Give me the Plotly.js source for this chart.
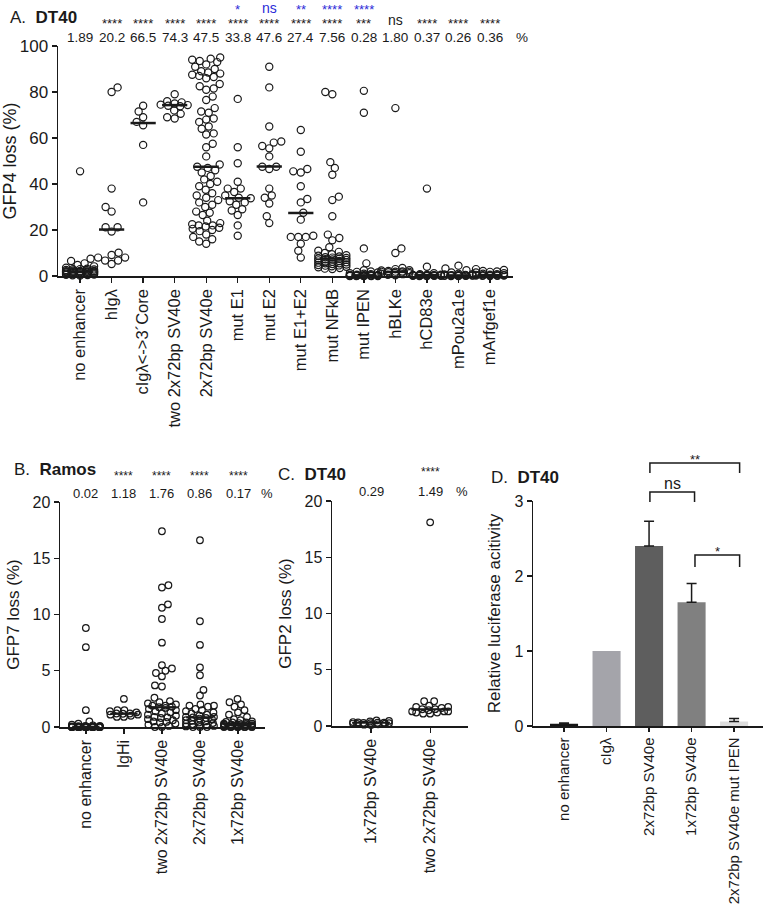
<!DOCTYPE html>
<html><head><meta charset="utf-8">
<script src="https://cdn.plot.ly/plotly-3.0.1.min.js"></script>
<style>html,body{margin:0;padding:0;background:#fff}#chart{width:765px;height:909px}</style>
</head><body><div id="chart"></div>
<script>
// ---------- Panel A (DT40, GFP4 loss) ----------
const catsA = ['no enhancer','hIgλ','cIgλ&lt;-&gt;3´Core','two 2x72bp SV40e','2x72bp SV40e','mut E1','mut E2','mut E1+E2','mut NFkB','mut IPEN','hBLKe','hCD83e','mPou2a1e','mArfgef1e'];
const medLabelsA = ['1.89','20.2','66.5','74.3','47.5','33.8','47.6','27.4','7.56','0.28','1.80','0.37','0.26','0.36'];
const starsA = ['','****','****','****','****','****','****','****','****','***','ns','****','****','****'];
const blueStarsA = ['','','','','','*','ns','**','****','****','','','',''];
const a_noEnh = [45.5,7.5,6.5,5.5,4.8,4.2,3.6,3.2,3.0,2.8,2.6,2.4,2.2,2.1,2.0,2.0,1.9,1.9,1.8,1.7,1.6,1.5,1.4,1.3,1.2,1.1,1.0,0.9,0.8,0.7,0.6,0.5,0.4,0.3,0.2,2.5,1.8,2.2,1.5,3.0];
const a_hIgl = [82,80,38,30,28,21.2,21.2,19.3,10.1,9.1,8,8,6.7,6.7,5.2];
const a_cIgl = [74,71.5,69,67,65.5,57,32];
const a_two2x72 = [79,76,75.5,75,74.5,74.3,74,73.8,72,70.5,69,68.5];
const a_2x72 = [95,94.5,94,93.5,93,92,91,90,89,88.5,88,87.5,87,86.5,86,83.5,82.5,81.5,81,78,76.5,73,71.5,71,68.5,68,67,65,64,62,61.5,57.5,56,52,48.5,47.5,47,46,45,43.5,42,41,40,39,37.5,36,35,34,33,32,31,30,28,27.5,26.5,24,23,22.5,22,22,21.5,21,20.5,20,19.5,18,17,16,15,14];
const a_mutE1 = [77,56,49,41,38,38,36.5,35,34,33.8,32.5,32,31,29,28.5,26.5,22,17.5];
const a_mutE2 = [91,82,65,58.5,58,56.5,55.5,52,47.5,47.5,46.5,38,35,34,31.5,26,23];
const a_mutE12 = [63.5,54,46.5,45.5,45,39,33.5,32,27.5,24.5,17.5,17,17,17,14,11,8];
const a_mutNFkB = [80,79,49.5,47,44,34.5,33,26,18,16.5,15.5,12.5,11,10.5,10,9.5,9,8.8,8.5,8.2,8,7.8,7.6,7.5,7.3,7,6.8,6.5,6.3,6,5.8,5.5,5.2,5,4.8,4.5,4.2,4,3.8,3.5,3.2,3,6.2,7.2,5.5,4.6];
const a_mutIPEN = [80.5,71,12,5.5,2.5,2,1.5,1.2,1,0.8,0.6,0.5,0.4,0.3,0.3,0.28,0.25,0.2,0.2,0.15,0.1,0.1,0.05,0,0,0,0,0,0.5,1.8];
const a_hBLKe = [73,12,10,3.5,3,2.5,2.2,2,1.9,1.8,1.8,1.6,1.5,1.2,1,0.8,0.5,2.4,1.3,0.3];
const a_hCD83e = [38,4,1.2,0.8,0.6,0.5,0.4,0.4,0.37,0.3,0.3,0.2,0.2,0.15,0.1,0.1,0.05,0,0,0.6];
const a_mPou2a1e = [4.5,3.3,2.5,1.5,1,0.7,0.5,0.4,0.3,0.26,0.25,0.2,0.2,0.15,0.1,0.1,0,0,0.8,0.3];
const a_mArfgef1e = [3,2.6,2.2,1.8,1.5,1.2,1,0.8,0.6,0.5,0.4,0.36,0.3,0.3,0.2,0.2,0.1,0.1,0,2];
const groupsA = [a_noEnh,a_hIgl,a_cIgl,a_two2x72,a_2x72,a_mutE1,a_mutE2,a_mutE12,a_mutNFkB,a_mutIPEN,a_hBLKe,a_hCD83e,a_mPou2a1e,a_mArfgef1e];

// ---------- Panel B (Ramos, GFP7 loss) ----------
const catsB = ['no enhancer','IgHi','two 2x72bp SV40e','2x72bp SV40e','1x72bp SV40e'];
const medLabelsB = ['0.02','1.18','1.76','0.86','0.17'];
const starsB = ['','****','****','****','****'];
const b_noEnh = [8.8,7.1,1.5,0.5,0.3,0.2,0.15,0.1,0.1,0.08,0.06,0.05,0.04,0.03,0.02,0.02,0.02,0.02,0.01,0.01,0.01,0,0,0,0,0,0,0,0,0,0,0,0,0,0,0,0,0,0,0];
const b_IgHi = [2.5,1.5,1.5,1.4,1.3,1.2,1.18,1.1,1.1,1.0,0.9,0.9,1.2];
const b_two2x72 = [17.4,12.6,12.4,10.9,10.6,9.6,7.5,5.5,5.2,5.0,4.8,4.5,3.7,3.6,2.6,2.3,2.2,2.0,1.9,1.8,1.76,1.7,1.6,1.5,1.4,1.3,1.2,1.1,1.0,0.9,0.8,0.7,0.6,0.5,0.4,0.3,0.2,0.1,0,0,2.1,1.9,0.45,0.85];
const b_2x72 = [16.6,9.4,7.3,5.3,4.6,3.3,2.8,2.0,1.9,1.8,1.6,1.5,1.4,1.2,1.1,1.0,0.9,0.86,0.8,0.7,0.6,0.5,0.4,0.3,0.2,0.1,0,0,0,0.15,0.35,0.55,0.9,1.3,1.9,0.05,0.25,0.75];
const b_1x72 = [2.5,2.2,2.0,1.8,1.5,1.3,1.1,0.9,0.7,0.5,0.45,0.4,0.35,0.3,0.3,0.25,0.2,0.2,0.17,0.15,0.15,0.1,0.1,0.1,0.08,0.05,0.05,0.03,0,0,0,0,0,0,0,0,0.6,0.4,0.22,0.12];
const groupsB = [b_noEnh,b_IgHi,b_two2x72,b_2x72,b_1x72];

// ---------- Panel C (DT40, GFP2 loss) ----------
const catsC = ['1x72bp SV40e','two 2x72bp SV40e'];
const medLabelsC = ['0.29','1.49'];
const starsC = ['','****'];
const c_1x72 = [0.5,0.45,0.4,0.35,0.32,0.3,0.29,0.28,0.25,0.25,0.22,0.2,0.18,0.15,0.12,0.1];
const c_two2x72 = [18.1,2.2,2.2,1.8,1.7,1.7,1.6,1.5,1.49,1.4,1.3,1.3,1.3,1.2,1.2,1.1,1.1];
const groupsC = [c_1x72,c_two2x72];

// ---------- Panel D (DT40, luciferase) ----------
const catsD = ['no enhancer','cIgλ','2x72bp SV40e','1x72bp SV40e','2x72bp SV40e mut IPEN'];
const valsD = [0.03,1.0,2.4,1.65,0.06];
const errD = [0.01,null,0.33,0.25,0.04];
const colorsD = ['#151515','#a4a4aa','#5e5e5e','#808080','#dcdcdc'];
const bracketsD = [{from:2.02,to:4.13,label:'**'},{from:2.02,to:3.07,label:'ns'},{from:3.08,to:4.13,label:'*'}];

// ---------- layout helpers ----------
const W = 765, H = 909;
const px = x => x / W;
const py = y => 1 - y / H;
const FONT = 'Liberation Sans, Arial, Helvetica, sans-serif';
const INK = '#1a1a1a';

const panels = {
  A: {xd:[58,513], yd:[46,276], xr:[-0.7,13.73], yr:[0,100], diam:7.2, maxW:14, half:0.4, mw:2.5},
  B: {xd:[60,265], yd:[502,727], xr:[-0.68,4.71], yr:[0,20], diam:6.6, maxW:14, half:0.36, mw:2.2},
  C: {xd:[332,468], yd:[501,726], xr:[-0.66,1.64], yr:[0,20], diam:6.6, maxW:18, half:0.32, mw:2.2},
  D: {xd:[533,763], yd:[501,726], xr:[-0.73,4.68], yr:[0,3]}
};

function swarm(vals, yScale, diam, maxW) {
  const order = vals.map((v,i)=>i).sort((a,b)=>vals[a]-vals[b]);
  const placed = []; const off = new Array(vals.length).fill(0);
  let flip = 1;
  order.forEach(i => {
    const y = vals[i]*yScale;
    const near = placed.filter(p => Math.abs(p.y-y) < diam);
    let best = 0, bestCost = Infinity;
    outer: for (let s = 0; s <= maxW+1e-9; s += 0.5) {
      const cands = s === 0 ? [0] : [flip*s, -flip*s];
      for (const x of cands) {
        let cost = 0;
        for (const p of near) { const d = Math.hypot(p.x-x, p.y-y); if (d < diam) cost += diam-d; }
        if (cost < bestCost-1e-9) { bestCost = cost; best = x; }
        if (cost === 0) break outer;
      }
    }
    flip = -flip;
    off[i] = best; placed.push({x:best, y});
  });
  return off;
}

const traces = [];
function dotPanel(groups, medLabels, P, xa, ya) {
  const xScale = (P.xd[1]-P.xd[0])/(P.xr[1]-P.xr[0]);
  const yScale = (P.yd[1]-P.yd[0])/(P.yr[1]-P.yr[0]);
  groups.forEach((vals, gi) => {
    const off = swarm(vals, yScale, P.diam, P.maxW);
    traces.push({type:'scatter', mode:'markers', xaxis:xa, yaxis:ya, cliponaxis:false, hoverinfo:'skip',
      x: vals.map((v,k)=> gi + off[k]/xScale), y: vals,
      marker:{symbol:'circle-open', size:P.diam, color:INK, line:{width:1.2, color:INK}}});
    const m = Number(medLabels[gi]);
    traces.push({type:'scatter', mode:'lines', xaxis:xa, yaxis:ya, cliponaxis:false, hoverinfo:'skip',
      x:[gi-P.half, gi+P.half], y:[m,m], line:{color:INK, width:P.mw}});
  });
}
dotPanel(groupsA, medLabelsA, panels.A, 'x', 'y');
dotPanel(groupsB, medLabelsB, panels.B, 'x2', 'y2');
dotPanel(groupsC, medLabelsC, panels.C, 'x3', 'y3');

traces.push({type:'bar', xaxis:'x4', yaxis:'y4', x: catsD.map((c,i)=>i), y: valsD, width:0.66, hoverinfo:'skip',
  marker:{color:colorsD, line:{width:0}}});
// upward-only error bars, for the bars that have an error value
const errIdx = errD.map((e,i)=>i).filter(i => errD[i] !== null);
traces.push({type:'scatter', mode:'markers', xaxis:'x4', yaxis:'y4', cliponaxis:false, hoverinfo:'skip',
  x: errIdx, y: errIdx.map(i=>valsD[i]), marker:{size:1, opacity:0},
  error_y:{type:'data', array: errIdx.map(i=>errD[i]), arrayminus: errIdx.map(()=>0), symmetric:false,
    color:INK, thickness:1.5, width:5}});

function xAxis(P, cats, anchor, fs, tl) {
  return {domain:[px(P.xd[0]), px(P.xd[1])], range:P.xr, anchor:anchor, tickmode:'array',
    tickvals: cats.map((c,i)=>i), ticktext: cats, tickangle:-90, ticks:'outside', ticklen:tl||5, tickwidth:1.3, tickcolor:INK,
    showline:true, linecolor:INK, linewidth:1.5, showgrid:false, zeroline:false, fixedrange:true,
    tickfont:{size:fs, color:INK, family:FONT}};
}
function yAxis(P, anchor, dtick, title, fs, tfs, standoff) {
  return {domain:[py(P.yd[1]), py(P.yd[0])], range:P.yr, anchor:anchor, dtick:dtick, tick0:0,
    ticks:'outside', ticklen:5, tickwidth:1.3, tickcolor:INK, showline:true, linecolor:INK, linewidth:1.5,
    showgrid:false, zeroline:false, fixedrange:true, tickfont:{size:fs, color:INK, family:FONT},
    title:{text:title, font:{size:tfs, color:INK, family:FONT}, standoff:standoff}};
}

const ann = [];
function txt(x, y, text, opt) {
  ann.push(Object.assign({x:x, y:y, xref:'paper', yref:'paper', text:text, showarrow:false,
    xanchor:'center', yanchor:'middle', font:{size:13, color:INK, family:FONT}}, opt||{}));
}
function dtxt(xi, xref, yPix, text, size, color) {
  ann.push({x:xi, xref:xref, y:py(yPix), yref:'paper', text:text, showarrow:false, xanchor:'center', yanchor:'middle',
    font:{size:size, color:color||INK, family:FONT}});
}
// Panel A header
txt(px(8), py(17), 'A.  <b>DT40</b>', {xanchor:'left', font:{size:17, color:INK, family:FONT}});
catsA.forEach((c,i) => {
  if (blueStarsA[i]) dtxt(i, 'x', blueStarsA[i]==='ns'?8:10, blueStarsA[i], blueStarsA[i]==='ns'?14:13, '#2b2bd8');
  if (starsA[i]) dtxt(i, 'x', starsA[i]==='ns'?20:24, starsA[i], starsA[i]==='ns'?14:13);
  dtxt(i, 'x', 38, medLabelsA[i], 13.5);
});
txt(px(522), py(38), '%', {font:{size:13.5, color:INK, family:FONT}});

// Panel B header
txt(px(12), py(470), 'B.  <b>Ramos</b>', {xanchor:'left', font:{size:17, color:INK, family:FONT}});
catsB.forEach((c,i) => {
  if (starsB[i]) dtxt(i, 'x2', 476, starsB[i], 12);
  dtxt(i, 'x2', 493, medLabelsB[i], 13);
});
txt(px(267), py(493), '%', {font:{size:13, color:INK, family:FONT}});

// Panel C header
txt(px(276), py(475), 'C.  <b>DT40</b>', {xanchor:'left', font:{size:17, color:INK, family:FONT}});
catsC.forEach((c,i) => {
  if (starsC[i]) dtxt(i, 'x3', 472, starsC[i], 12);
  dtxt(i, 'x3', 491, medLabelsC[i], 13);
});
txt(px(462), py(491), '%', {font:{size:13, color:INK, family:FONT}});

// Panel D header + brackets
txt(px(489), py(477), 'D.  <b>DT40</b>', {xanchor:'left', font:{size:17, color:INK, family:FONT}});
const shapes = [];
const bracketY = [[463,473,457],[492,502,484],[555,567,549]];
bracketsD.forEach((b,k) => {
  const [top, leg, ty] = bracketY[k];
  shapes.push({type:'path', xref:'x4', yref:'paper',
    path:`M ${b.from} ${py(leg)} L ${b.from} ${py(top)} L ${b.to} ${py(top)} L ${b.to} ${py(leg)}`,
    line:{color:INK, width:1.5}});
  dtxt((b.from+b.to)/2, 'x4', b.label==='ns'?ty-1:ty+2, b.label, b.label==='ns'?16:13);
});

const layout = {
  width:W, height:H, margin:{l:0,r:0,t:0,b:0}, paper_bgcolor:'#fff', plot_bgcolor:'rgba(0,0,0,0)',
  showlegend:false, hovermode:false, font:{family:FONT, color:INK},
  xaxis: xAxis(panels.A, catsA, 'y', 16.5),
  yaxis: yAxis(panels.A, 'x', 20, 'GFP4 loss (%)', 17, 18, 6),
  xaxis2: xAxis(panels.B, catsB, 'y2', 16),
  yaxis2: yAxis(panels.B, 'x2', 5, 'GFP7 loss (%)', 16, 17, 8),
  xaxis3: xAxis(panels.C, catsC, 'y3', 16),
  yaxis3: yAxis(panels.C, 'x3', 5, 'GFP2 loss (%)', 16, 17, 8),
  xaxis4: xAxis(panels.D, catsD, 'y4', 15, 4),
  yaxis4: yAxis(panels.D, 'x4', 1, 'Relative luciferase acitivity', 16, 17, 9),
  annotations: ann, shapes: shapes
};
Plotly.newPlot('chart', traces, layout, {staticPlot:true, displayModeBar:false});
</script></body></html>
